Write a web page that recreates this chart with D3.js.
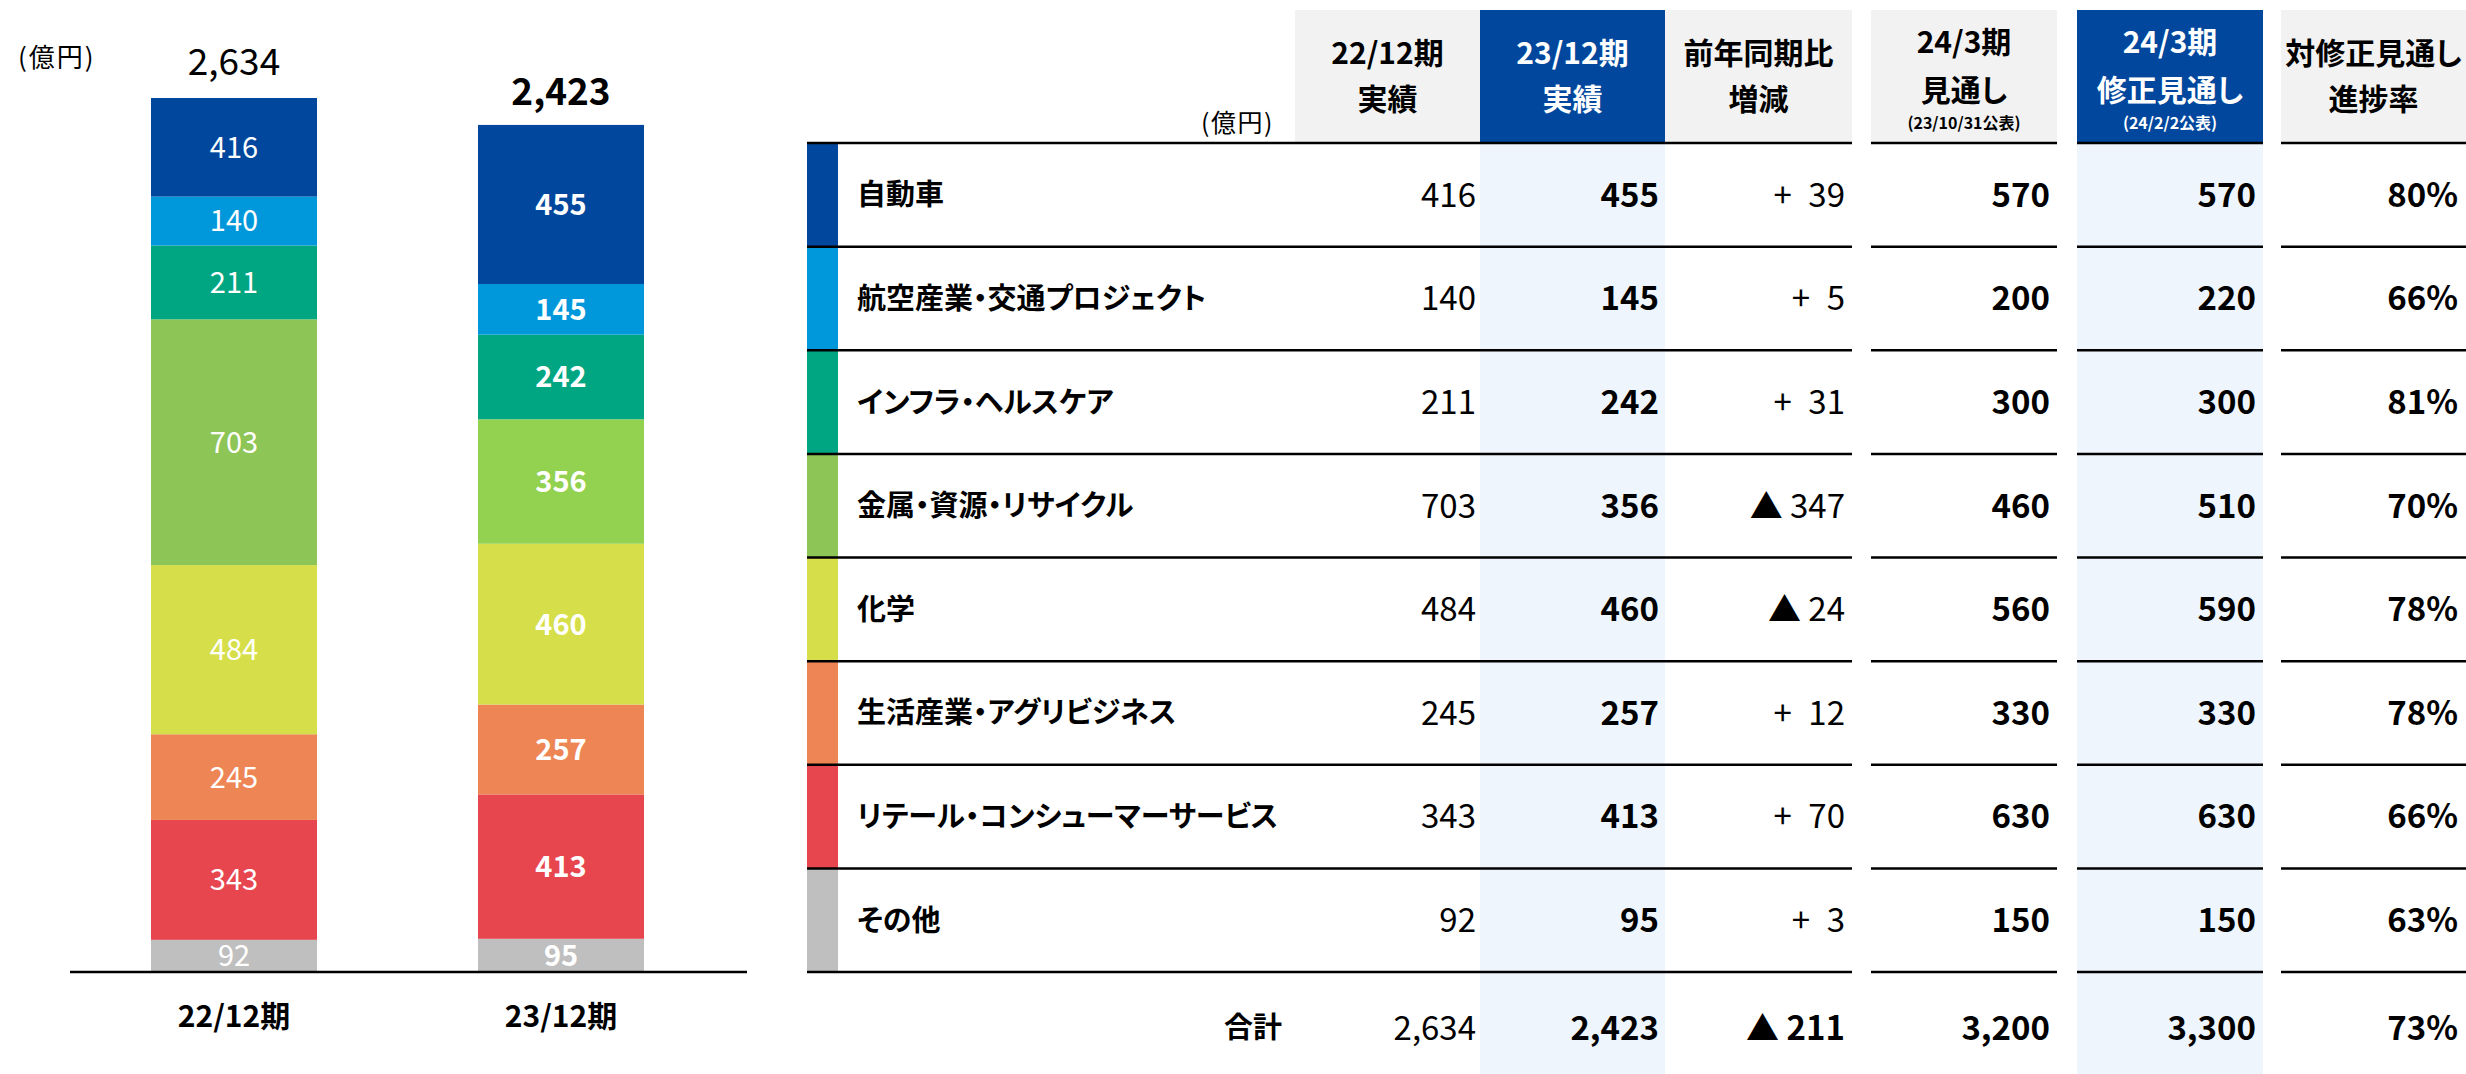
<!DOCTYPE html>
<html><head><meta charset="utf-8">
<script src="https://cdn.jsdelivr.net/npm/d3@7/dist/d3.min.js"></script>
<style>
html,body{margin:0;padding:0;background:#fff;}
svg{display:block;font-family:"Noto Sans CJK JP","Noto Sans",sans-serif;font-feature-settings:"palt";}
</style></head><body>
<svg id="c" width="2466" height="1074"></svg>
<script>
// ---------- data ----------
const segments = ["自動車","航空産業・交通プロジェクト","インフラ・ヘルスケア","金属・資源・リサイクル","化学","生活産業・アグリビジネス","リテール・コンシューマーサービス","その他"];
const periods = ["22/12期","23/12期"];
const results22 = [416,140,211,703,484,245,343,92];
const results23 = [455,145,242,356,460,257,413,95];
const yoyDiff = [39,5,31,-347,-24,12,70,3];
const forecastOct = [570,200,300,460,560,330,630,150];
const forecastRevised = [570,220,300,510,590,330,630,150];
const progressRate = [80,66,81,70,78,78,66,63];
const totalRow = [2634,2423,-211,3200,3300,73];
const barTotals = [2634,2423];
const colors22 = ["#00479D","#0098DB","#00A582","#8DC556","#D6DF4A","#EE8554","#E8464E","#BFBFBF"];
const colors23 = ["#00479D","#0098DB","#00A582","#93D150","#D6DF4A","#EE8554","#E8464E","#BFBFBF"];
const unitLabel = "(億円)";
const totalLabel = "合計";

const svg = d3.select("#c");
const fmt = d3.format(",");

// ---------- stacked bar chart ----------
const x = d3.scaleBand().domain(periods).range([70, 725]).paddingInner(0.4924).paddingOuter(0.2477);
const y = d3.scaleLinear().domain([0, 2500]).range([972, 98]).clamp(true);
const seriesByPeriod = [results22, results23];
const colorsByPeriod = [colors22, colors23];

periods.forEach((p, pi) => {
  const vals = seriesByPeriod[pi];
  let cum = 0;
  const stack = vals.map((v, i) => ({v, i, y0: 0, y1: 0})).reverse();
  stack.forEach(d => { d.y0 = cum; cum += d.v; d.y1 = cum; });
  const g = svg.append("g");
  g.selectAll("rect").data(stack).join("rect")
    .attr("x", x(p)).attr("width", x.bandwidth())
    .attr("y", d => y(d.y1)).attr("height", d => y(d.y0) - y(d.y1))
    .attr("fill", d => colorsByPeriod[pi][d.i]);
  g.selectAll("text").data(stack).join("text")
    .attr("x", x(p) + x.bandwidth() / 2)
    .attr("y", d => (y(d.y0) + y(d.y1)) / 2)
    .attr("dy", "0.36em")
    .attr("text-anchor", "middle")
    .attr("fill", "#fff")
    .attr("font-size", 29)
    .attr("font-weight", pi === 1 ? 700 : 400)
    .text(d => fmt(d.v));
  svg.append("text")
    .attr("x", x(p) + x.bandwidth() / 2)
    .attr("y", y(barTotals[pi]) - (pi === 0 ? 36 : 33))
    .attr("dy", "0.36em")
    .attr("text-anchor", "middle")
    .attr("font-size", 37)
    .attr("font-weight", pi === 1 ? 700 : 400)
    .attr("fill", "#000")
    .text(fmt(barTotals[pi]));
});

// axis
const xAxis = d3.axisBottom(x).tickSize(0).tickPadding(34);
const ax = svg.append("g").attr("transform", "translate(0,972)").call(xAxis);
ax.select(".domain").remove();
ax.append("line").attr("x1", 70).attr("x2", 747).attr("y1", 0).attr("y2", 0).attr("stroke", "#000").attr("stroke-width", 2.5);
ax.selectAll(".tick text").attr("font-size", 30).attr("font-weight", 700).attr("fill", "#000").attr("font-family", "'Noto Sans CJK JP',sans-serif");

svg.append("text").attr("x", 18).attr("y", 58).attr("dy", "0.36em").attr("font-size", 26)
  .attr("letter-spacing", 2).attr("fill", "#000").text(unitLabel);

// ---------- table ----------
const rowY = d3.scaleBand().domain(segments).range([143, 972]);
const tableLeft = 807;
const colorBarW = 31;
const groups = [[807, 1852], [1871, 2057], [2077, 2263], [2281, 2466]];
const columns = [
  {x0: 1295, x1: 1480, head: ["22/12期", "実績"], bg: "#F2F2F2", fg: "#000", body: null, right: 1476},
  {x0: 1480, x1: 1665, head: ["23/12期", "実績"], bg: "#00479D", fg: "#fff", body: "#EEF5FC", right: 1659},
  {x0: 1665, x1: 1852, head: ["前年同期比", "増減"], bg: "#F2F2F2", fg: "#000", body: null, right: 1845},
  {x0: 1871, x1: 2057, head: ["24/3期", "見通し", "(23/10/31公表)"], bg: "#F2F2F2", fg: "#000", body: null, right: 2050},
  {x0: 2077, x1: 2263, head: ["24/3期", "修正見通し", "(24/2/2公表)"], bg: "#00479D", fg: "#fff", body: "#EEF5FC", right: 2256},
  {x0: 2281, x1: 2466, head: ["対修正見通し", "進捗率"], bg: "#F2F2F2", fg: "#000", body: null, right: 2458}
];

// column backgrounds
columns.forEach(c => {
  svg.append("rect").attr("x", c.x0).attr("y", 10).attr("width", c.x1 - c.x0).attr("height", 133).attr("fill", c.bg);
  if (c.body) svg.append("rect").attr("x", c.x0).attr("y", 143).attr("width", c.x1 - c.x0).attr("height", 1074 - 143).attr("fill", c.body);
  const cx = (c.x0 + c.x1) / 2;
  const lines = c.head;
  const ys = lines.length === 3 ? [42, 90, 123] : [53, 99];
  lines.forEach((t, i) => {
    svg.append("text").attr("x", cx).attr("y", ys[i]).attr("dy", "0.36em")
      .attr("text-anchor", "middle").attr("fill", c.fg)
      .attr("font-weight", 700)
      .attr("font-size", i === 2 ? 16 : 30)
      .text(t);
  });
});

svg.append("text").attr("x", 1274).attr("y", 123).attr("dy", "0.36em").attr("text-anchor", "end")
  .attr("font-size", 25).attr("letter-spacing", 1.5).text(unitLabel);

// color bars
svg.selectAll("rect.cb").data(segments).join("rect").attr("class", "cb")
  .attr("x", tableLeft).attr("width", colorBarW)
  .attr("y", d => rowY(d)).attr("height", rowY.bandwidth())
  .attr("fill", (d, i) => colors22[i]);

// row lines
const lineYs = [143].concat(segments.map(s => rowY(s) + rowY.bandwidth()));
lineYs.forEach(ly => {
  groups.forEach(g => {
    svg.append("line").attr("x1", g[0]).attr("x2", g[1]).attr("y1", ly).attr("y2", ly)
      .attr("stroke", "#000").attr("stroke-width", 2.5);
  });
});

const diffFmt = v => v < 0 ? "▲ " + fmt(-v) : "+\u2002" + fmt(v);
const colData = [
  {vals: results22, f: fmt, w: 400},
  {vals: results23, f: fmt, w: 700},
  {vals: yoyDiff, f: diffFmt, w: 400},
  {vals: forecastOct, f: fmt, w: 700},
  {vals: forecastRevised, f: fmt, w: 700},
  {vals: progressRate, f: v => v + "%", w: 700}
];

segments.forEach((s, i) => {
  const cy = rowY(s) + rowY.bandwidth() / 2;
  svg.append("text").attr("x", 857).attr("y", cy).attr("dy", "0.36em")
    .attr("font-size", 29).attr("font-weight", 700).attr("fill", "#000").text(s);
  colData.forEach((c, ci) => {
    svg.append("text").attr("x", columns[ci].right).attr("y", cy).attr("dy", "0.36em")
      .attr("text-anchor", "end").attr("font-size", 33).attr("font-weight", c.w).attr("fill", "#000")
      .text(c.f(c.vals[i]));
  });
});

// total row
const totalY = 1028;
svg.append("text").attr("x", 1282).attr("y", totalY).attr("dy", "0.36em").attr("text-anchor", "end")
  .attr("font-size", 29).attr("font-weight", 700).text(totalLabel);
colData.forEach((c, ci) => {
  svg.append("text").attr("x", columns[ci].right).attr("y", totalY).attr("dy", "0.36em")
    .attr("text-anchor", "end").attr("font-size", 33).attr("font-weight", ci === 0 ? 400 : 700).attr("fill", "#000")
    .text(c.f(totalRow[ci]));
});
</script>
</body></html>
